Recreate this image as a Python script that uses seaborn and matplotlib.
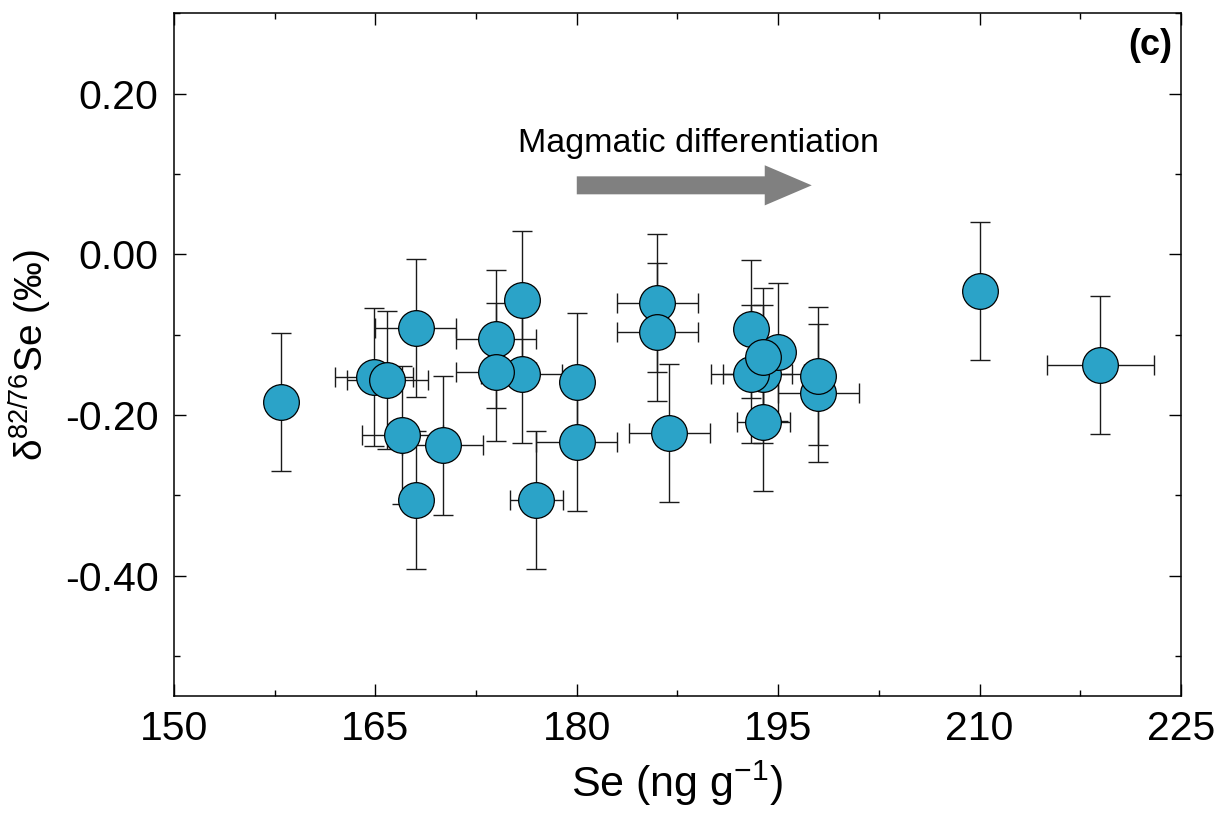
import numpy as np
import pandas as pd
import matplotlib
matplotlib.use("Agg")
import matplotlib.pyplot as plt
import matplotlib.patches as mpatches
from matplotlib.ticker import MultipleLocator, FormatStrFormatter
import seaborn as sns

# ---- data ----
se_ng_g = [158.0, 164.9, 165.9, 168.0, 167.0, 168.0, 170.0, 174.0, 175.9, 175.9,
           174.0, 177.0, 180.0, 180.0, 186.0, 186.0, 186.9, 193.9, 193.0, 193.0,
           195.0, 193.9, 193.9, 198.0, 198.0, 210.0, 219.0]
delta_se = [-0.184, -0.153, -0.156, -0.092, -0.225, -0.306, -0.238, -0.105, -0.057, -0.149,
            -0.147, -0.306, -0.159, -0.234, -0.061, -0.097, -0.222, -0.149, -0.149, -0.093,
            -0.122, -0.128, -0.209, -0.173, -0.152, -0.046, -0.138]
se_err = [0.0, 2.9, 3.0, 3.0, 3.0, 0.0, 3.0, 3.0, 0.0, 3.0,
          3.0, 2.0, 0.0, 3.0, 3.0, 3.0, 3.0, 3.0, 3.0, 0.0,
          0.0, 0.0, 2.0, 3.0, 0.0, 0.0, 4.0]
delta_err = [0.086, 0.086, 0.086, 0.086, 0.086, 0.086, 0.086, 0.086, 0.086, 0.086,
             0.086, 0.086, 0.086, 0.086, 0.086, 0.086, 0.086, 0.086, 0.086, 0.086,
             0.086, 0.086, 0.086, 0.086, 0.086, 0.086, 0.086]
x_ticks = [150, 165, 180, 195, 210, 225]
y_ticks = [-0.40, -0.20, 0.00, 0.20]

df = pd.DataFrame({"Se": se_ng_g, "d": delta_se, "xe": se_err, "ye": delta_err})

sns.set_theme(style="ticks")
plt.rcParams["font.family"] = ["Liberation Sans", "DejaVu Sans"]
plt.rcParams["mathtext.fontset"] = "custom"
plt.rcParams["mathtext.rm"] = "Liberation Sans"
plt.rcParams["mathtext.it"] = "Liberation Sans:italic"
plt.rcParams["mathtext.bf"] = "Liberation Sans:bold"
plt.rcParams["axes.unicode_minus"] = False
for key in ["text.color", "axes.labelcolor", "xtick.color", "ytick.color",
            "xtick.labelcolor", "ytick.labelcolor", "axes.edgecolor"]:
    plt.rcParams[key] = "black"

fig = plt.figure(figsize=(12.21, 8.23), dpi=100)
ax = fig.add_axes([0.1425, 0.1543, 0.8247, 0.8293])

# error bars first (markers drawn on top)
xe = np.array(df["xe"], dtype=float)
xe_plot = np.where(xe > 0, xe, np.nan)
ax.errorbar(df["Se"], df["d"], yerr=df["ye"], fmt="none", ecolor="#1a1a1a",
            elinewidth=1.0, capsize=7, capthick=1.0, zorder=2)
ax.errorbar(df["Se"], df["d"], xerr=xe_plot, fmt="none", ecolor="#1a1a1a",
            elinewidth=1.0, capsize=7, capthick=1.0, zorder=2)

sns.scatterplot(data=df, x="Se", y="d", ax=ax, s=660, color="#2BA3C8",
                edgecolor="black", linewidth=0.9, zorder=3, legend=False)

ax.set_xlim(150, 225)
ax.set_ylim(-0.55, 0.30)
ax.set_xticks(x_ticks)
ax.set_yticks(y_ticks)
ax.xaxis.set_minor_locator(MultipleLocator(7.5))
ax.yaxis.set_minor_locator(MultipleLocator(0.1))
ax.yaxis.set_major_formatter(FormatStrFormatter("%.2f"))

ax.tick_params(which="both", direction="in", top=True, right=True, color="black", width=1.0)
ax.tick_params(which="major", length=8.6)
ax.tick_params(which="minor", length=4.3)
ax.tick_params(axis="x", which="major", labelsize=29.5, pad=10, labelcolor="black")
ax.tick_params(axis="y", which="major", labelsize=29.5, pad=11, labelcolor="black")
for sp in ax.spines.values():
    sp.set_linewidth(1.1)
    sp.set_color("black")

ax.set_xlabel("Se (ng g$^{-1}$)", fontsize=31, labelpad=8, color="black")
ax.set_ylabel("δ$^{82/76}$Se (‰)", fontsize=28, labelpad=8, color="black")

# annotation arrow + text
arrow = mpatches.FancyArrow(180.0, 0.086, 17.5, 0.0, width=0.0224, head_width=0.05,
                            head_length=3.5, length_includes_head=True,
                            color="#808080", linewidth=0, zorder=1)
ax.add_patch(arrow)
ax.text(175.6, 0.128, "Magmatic differentiation", fontsize=24.5, ha="left",
        va="baseline", color="black")
ax.text(0.991, 0.979, "(c)", transform=ax.transAxes, fontsize=26, fontweight="bold",
        ha="right", va="top", color="black")

fig.savefig("out.png", dpi=100)
